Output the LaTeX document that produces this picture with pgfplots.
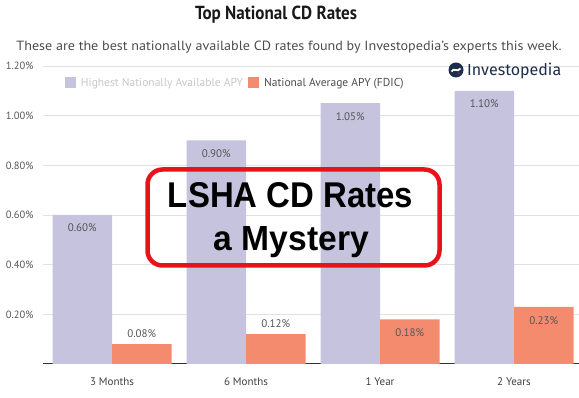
\documentclass[border=0pt]{standalone}
\usepackage{pgfplots}
\pgfplotsset{compat=1.18}
\usepackage{pgfplotstable}
\usepackage{fontspec}
\usepackage{graphicx}
\setmainfont{PT Sans}
\newfontfamily\boxfont{Liberation Sans}
\newfontfamily\logofont{Fira Sans}
\definecolor{purp}{RGB}{197,195,221}
\definecolor{orng}{RGB}{245,139,110}
\definecolor{boxred}{RGB}{232,18,26}
\definecolor{navy}{RGB}{29,45,77}
\definecolor{tickgray}{RGB}{85,85,85}
\definecolor{gridgray}{RGB}{225,225,225}

\pgfplotstableread{
x y off
0 0.60 -13
1 0.90 -13
2 1.05 -13
3 1.10 -13
}\highest
\pgfplotstableread{
x y off
0 0.08 10
1 0.12 11
2 0.18 -13
3 0.23 -14
}\natavg

\begin{document}
\begin{tikzpicture}[x=1pt,y=1pt]
\useasboundingbox (0,0) rectangle (579,398);
\begin{axis}[
  at={(43pt,34pt)}, anchor=south west,
  scale only axis, width=536pt, height=298pt,
  xmin=-0.515, xmax=3.485, ymin=0, ymax=1.2,
  enlargelimits=false,
  ybar=0pt, bar width=59.5pt,
  axis x line*=bottom, axis y line*=left,
  y axis line style={draw=none},
  x axis line style={draw=black!80, line width=1pt},
  major tick length=0pt,
  ymajorgrids, grid style={color=gridgray, line width=0.7pt},
  ytick={0.2,0.4,0.6,0.8,1.0,1.2},
  /pgf/number format/assume math mode=true,
  yticklabel={\pgfmathprintnumber[fixed,fixed zerofill,precision=2]{\tick}\%},
  yticklabel style={font=\fontsize{10.5}{12}\selectfont, text=tickgray, xshift=-6pt},
  xtick={0,1,2,3}, xticklabels={3 Months,6 Months,1 Year,2 Years},
  xticklabel style={font=\fontsize{11}{13}\selectfont, text=black!75, yshift=-10pt},
  nodes near coords={\pgfmathprintnumber[fixed,fixed zerofill,precision=2]{\pgfplotspointmeta}\%},
  visualization depends on={\thisrow{off} \as \off},
  every node near coord/.append style={anchor=center, yshift=\off pt, font=\fontsize{11}{12}\selectfont, text=tickgray},
  legend columns=2,
  legend style={at={(0.035,0.943)}, anchor=west, draw=none, fill=none,
    font=\fontsize{11.5}{13}\selectfont,
    /tikz/every odd column/.append style={column sep=3pt},
    /tikz/every even column/.append style={column sep=3pt}},
]
\addplot[fill=purp, draw=none, legend image code/.code={\fill[purp] (0pt,-5.5pt) rectangle (11pt,5.5pt);}] table[x=x,y=y] {\highest};
\addlegendentry{\textcolor{black!22}{Highest Nationally Available APY}}
\addplot[fill=orng, draw=none, legend image code/.code={\fill[orng] (0pt,-5.5pt) rectangle (11pt,5.5pt);}] table[x=x,y=y] {\natavg};
\addlegendentry{\textcolor{black!70}{National Average APY (FDIC)}}
\end{axis}

% title and subtitle
\node[anchor=base, text=black!90] at (276,378) {\resizebox{162pt}{13.5pt}{\bfseries Top National CD Rates}};
\node[anchor=base, text=black!70] at (289,347) {\resizebox{545pt}{9.5pt}{These are the best nationally available CD rates found by Investopedia's experts this week.}};

% logo
\fill[navy] (456,328) circle (7.5);
\draw[white, line width=1.8pt] (451.5,326.5) .. controls (454,331) and (457,325) .. (460.5,329.5);
\fill[boxred!90!black] (459,324.5) circle (1.2);
\node[anchor=west, inner sep=0pt, text=navy] at (467,327.5) {\resizebox{94pt}{!}{\logofont\fontsize{18}{20}\selectfont Investopedia}};

% red box
\draw[boxred, line width=4.5pt, rounded corners=15pt] (147.5,228.5) rectangle (439.5,132.5);
\node[anchor=base, inner sep=0pt] at (290.5,190) {\resizebox{245pt}{25pt}{\boxfont\bfseries LSHA CD Rates}};
\node[anchor=base, inner sep=0pt] at (291.5,147) {\resizebox{155pt}{24pt}{\boxfont\bfseries a Mystery}};
\end{tikzpicture}
\end{document}
